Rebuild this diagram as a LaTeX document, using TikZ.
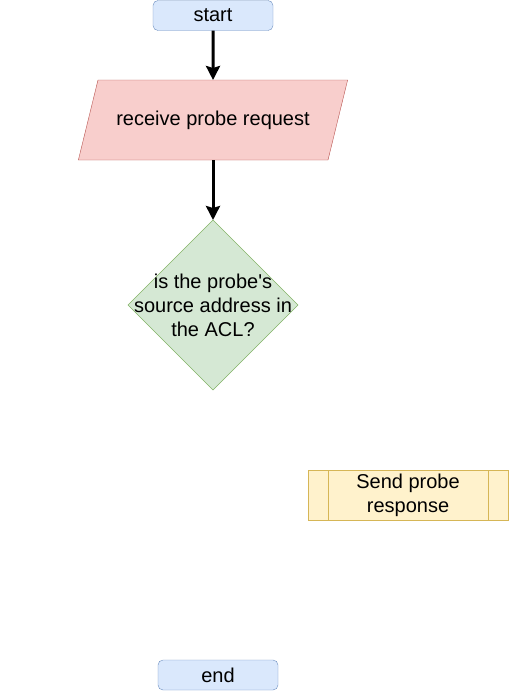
\documentclass[tikz,border=0pt]{standalone}
\usepackage{fontspec}
\setmainfont{Liberation Sans}
\usetikzlibrary{shapes.geometric,arrows.meta}
\definecolor{termfill}{HTML}{DAE8FC}
\definecolor{termline}{HTML}{6C8EBF}
\definecolor{iofill}{HTML}{F8CECC}
\definecolor{ioline}{HTML}{B85450}
\definecolor{askfill}{HTML}{D5E8D4}
\definecolor{askline}{HTML}{82B366}
\definecolor{procfill}{HTML}{FFF2CC}
\definecolor{procline}{HTML}{D6B656}
\begin{document}
\begin{tikzpicture}[x=1pt, y=-1pt,
    every node/.style={font=\fontsize{20}{24}\selectfont, outer sep=0pt},
    term/.style={draw=termline, fill=termfill, rounded corners=5pt, minimum width=120pt, minimum height=30pt},
    io/.style={trapezium, trapezium left angle=56, trapezium right angle=124, trapezium stretches=true,
        draw=ioline, fill=iofill, minimum width=270pt, minimum height=80pt},
    ask/.style={diamond, aspect=1, draw=askline, fill=askfill, minimum width=170pt, minimum height=170pt, inner sep=0pt},
    proc/.style={draw=procline, fill=procfill, minimum width=200pt, minimum height=50pt, align=center},
    flow/.style={-{Stealth[length=14pt, width=14pt, inset=2pt]}, line width=3pt}]
    \useasboundingbox (0,0) rectangle (509,691);
    \node[term] (start) at (213, 15.5) {start};
    \node[io] (recv) at (213, 120) {receive probe request};
    \node[ask, label={[align=center]center:is the probe\textquotesingle s\\source address in\\the ACL?}] (acl) at (213, 305) {};
    \node[proc] (send) at (408, 495) {Send probe\\response};
    \node[term] (end) at (218, 675) {end};
    % double sides of the process box
    \draw[procline] ([xshift=20pt]send.north west) -- ([xshift=20pt]send.south west);
    \draw[procline] ([xshift=-20pt]send.north east) -- ([xshift=-20pt]send.south east);
    \draw [flow] (start) to (recv);
    \draw [flow] (recv) to (acl);
\end{tikzpicture}
\end{document}
